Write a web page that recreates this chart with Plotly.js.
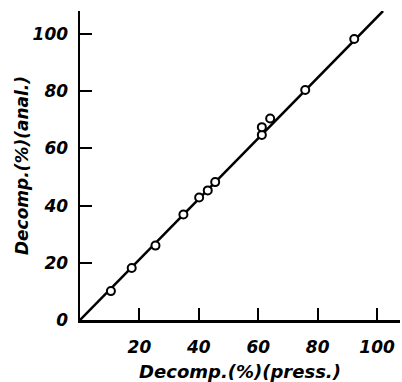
<!DOCTYPE html>
<html>
<head>
<meta charset="utf-8">
<script src="https://cdn.plot.ly/plotly-3.0.1.min.js"></script>
<style>html,body{margin:0;padding:0;background:#fff;}#chart{width:402px;height:382px;}</style>
</head>
<body>
<div id="chart"></div>
<script>
// Decomposition measured by pressure vs. by analysis (%)
const pressDecomp = [10.4, 17.4, 25.4, 34.8, 40.1, 43.0, 45.5, 61.2, 61.2, 64.0, 75.8, 92.3];
const analDecomp  = [10.1, 18.2, 26.0, 36.9, 42.8, 45.3, 48.2, 64.7, 67.4, 70.4, 80.4, 98.2];
const fitLineX = [0, 102];
const fitLineY = [0, 108];
const xTickVals = [20, 40, 60, 80, 100];
const xTickText = ['20', '40', '60', '80', '100'];
const yTickVals = [0, 20, 40, 60, 80, 100];
const yTickText = ['0', '20', '40', '60', '80', '100'];
const xTitle = 'Decomp.(%)(press.)';
const yTitle = 'Decomp.(%)(anal.)';

const handFont = {family: 'DejaVu Sans', size: 17, color: '#000', weight: 'bold', style: 'italic'};

const traces = [
  {x: fitLineX, y: fitLineY, mode: 'lines', line: {color: '#000', width: 2.5}, hoverinfo: 'skip', showlegend: false},
  {x: pressDecomp, y: analDecomp, mode: 'markers',
   marker: {symbol: 'circle', size: 8, color: '#fff', line: {color: '#000', width: 2}}, showlegend: false}
];

const layout = {
  width: 402, height: 382,
  margin: {l: 80, r: 2, t: 11, b: 62},
  paper_bgcolor: '#fff', plot_bgcolor: '#fff',
  showlegend: false,
  xaxis: {
    range: [0, 107.7], showgrid: false, zeroline: false,
    showline: true, linecolor: '#000', linewidth: 2.5,
    ticks: 'inside', ticklen: 12, tickwidth: 2, tickcolor: '#000',
    tickvals: xTickVals, ticktext: xTickText, tickfont: handFont,
    ticklabelstandoff: 10,
    title: {text: xTitle, font: Object.assign({}, handFont, {size: 18}), standoff: 14},
    automargin: false, fixedrange: true
  },
  yaxis: {
    range: [0, 108], showgrid: false, zeroline: false,
    showline: true, linecolor: '#000', linewidth: 2.5,
    ticks: 'inside', ticklen: 12, tickwidth: 2, tickcolor: '#000',
    tickvals: yTickVals, ticktext: yTickText, tickfont: handFont,
    ticklabelstandoff: 6,
    title: {text: yTitle, font: Object.assign({}, handFont, {size: 17}), standoff: 0},
    automargin: false, fixedrange: true
  }
};

Plotly.newPlot('chart', traces, layout, {staticPlot: true, displayModeBar: false});
</script>
</body>
</html>
